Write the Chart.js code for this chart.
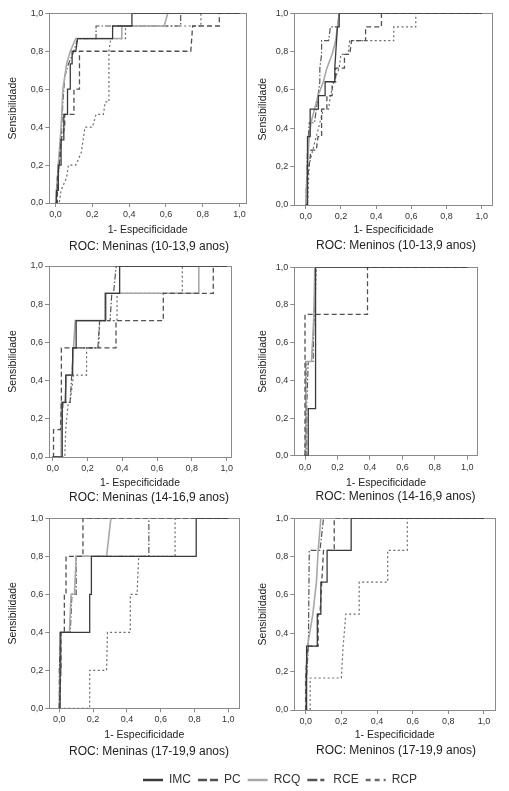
<!DOCTYPE html>
<html>
<head>
<meta charset="utf-8">
<script src="https://cdn.jsdelivr.net/npm/chart.js@4.4.1/dist/chart.umd.min.js"></script>
<style>
html, body { margin: 0; padding: 0; background: #fff; overflow: hidden; }
#wrap { position: relative; width: 509px; height: 791px; overflow: hidden; }
canvas { position: absolute; }
</style>
</head>
<body>
<div id="wrap"></div>
<script>
"use strict";

var seriesNames = ['IMC', 'PC', 'RCQ', 'RCE', 'RCP'];
var panelTitles = [
    'ROC: Meninas (10-13,9 anos)', 'ROC: Meninos (10-13,9 anos)',
    'ROC: Meninas (14-16,9 anos)', 'ROC: Meninos (14-16,9 anos)',
    'ROC: Meninas (17-19,9 anos)', 'ROC: Meninos (17-19,9 anos)'
];
var tickValues = [0, 0.2, 0.4, 0.6, 0.8, 1];
var tickLabels = ['0,0', '0,2', '0,4', '0,6', '0,8', '1,0'];
var xTitle = '1- Especificidade';
var yTitle = 'Sensibilidade';

// [1 - especificidade, sensibilidade]
// Meninas 10-13,9
var f10_imc = [[0,0],[0.005,0],[0.005,0.067],[0.015,0.067],[0.015,0.2],[0.03,0.2],[0.03,0.333],[0.045,0.333],[0.045,0.467],[0.065,0.467],[0.065,0.6],[0.08,0.6],[0.08,0.733],[0.09,0.733],[0.09,0.8],[0.11,0.8],[0.12,0.867],[0.31,0.867],[0.31,0.933],[0.415,0.933],[0.415,1],[1,1]];
var f10_pc = [[0,0],[0.01,0],[0.01,0.133],[0.02,0.2],[0.03,0.333],[0.05,0.4],[0.05,0.467],[0.1,0.467],[0.1,0.6],[0.13,0.6],[0.13,0.8],[0.735,0.8],[0.745,0.933],[0.89,0.933],[0.89,1],[1,1]];
var f10_rcq = [[0,0],[0.005,0.067],[0.01,0.133],[0.02,0.267],[0.03,0.4],[0.04,0.6],[0.06,0.733],[0.08,0.8],[0.11,0.867],[0.36,0.867],[0.36,0.933],[0.59,0.933],[0.61,1],[1,1]];
var f10_rce = [[0,0],[0.01,0.067],[0.02,0.2],[0.03,0.333],[0.04,0.533],[0.05,0.667],[0.07,0.733],[0.1,0.8],[0.12,0.867],[0.22,0.867],[0.22,0.933],[0.68,0.933],[0.68,1],[1,1]];
var f10_rcp = [[0,0],[0.02,0],[0.03,0.067],[0.06,0.133],[0.07,0.2],[0.11,0.2],[0.14,0.267],[0.15,0.333],[0.16,0.4],[0.2,0.4],[0.22,0.467],[0.26,0.467],[0.27,0.533],[0.29,0.533],[0.29,0.8],[0.3,0.867],[0.38,0.867],[0.38,0.933],[0.79,0.933],[0.79,1],[1,1]];

// Meninos 10-13,9
var m10_imc = [[0,0],[0.01,0],[0.01,0.357],[0.025,0.357],[0.025,0.5],[0.072,0.5],[0.072,0.571],[0.11,0.571],[0.11,0.643],[0.165,0.643],[0.165,0.714],[0.17,0.786],[0.18,0.929],[0.19,0.929],[0.19,1],[1,1]];
var m10_pc = [[0,0],[0.01,0],[0.01,0.143],[0.03,0.286],[0.06,0.286],[0.07,0.357],[0.09,0.357],[0.09,0.5],[0.12,0.5],[0.12,0.571],[0.15,0.571],[0.15,0.643],[0.17,0.643],[0.17,0.714],[0.22,0.714],[0.22,0.786],[0.25,0.786],[0.26,0.857],[0.34,0.857],[0.34,0.929],[0.43,0.929],[0.43,1],[1,1]];
var m10_rcq = [[0,0],[0.01,0.214],[0.02,0.357],[0.03,0.429],[0.05,0.5],[0.07,0.571],[0.1,0.643],[0.12,0.714],[0.15,0.786],[0.17,0.857],[0.18,0.929],[0.19,1],[1,1]];
var m10_rce = [[0,0],[0.005,0.143],[0.01,0.286],[0.02,0.429],[0.05,0.429],[0.06,0.5],[0.07,0.571],[0.08,0.643],[0.08,0.714],[0.09,0.786],[0.09,0.857],[0.13,0.857],[0.14,0.929],[0.18,0.929],[0.19,1],[1,1]];
var m10_rcp = [[0,0],[0.01,0],[0.02,0.214],[0.04,0.286],[0.06,0.357],[0.08,0.429],[0.1,0.5],[0.13,0.5],[0.14,0.571],[0.16,0.643],[0.19,0.714],[0.2,0.786],[0.24,0.786],[0.25,0.857],[0.5,0.857],[0.5,0.929],[0.625,0.929],[0.625,1],[1,1]];

// Meninas 14-16,9
var f14_imc = [[0,0],[0.055,0],[0.055,0.286],[0.075,0.286],[0.075,0.429],[0.115,0.429],[0.115,0.571],[0.135,0.571],[0.135,0.714],[0.305,0.714],[0.305,0.857],[0.385,0.857],[0.385,1],[1,1]];
var f14_pc = [[0,0],[0.005,0],[0.005,0.143],[0.045,0.143],[0.05,0.286],[0.05,0.571],[0.364,0.571],[0.364,0.714],[0.636,0.714],[0.636,0.857],[0.923,0.857],[0.923,1],[1,1]];
var f14_rcq = [[0,0],[0.05,0],[0.05,0.286],[0.07,0.286],[0.08,0.429],[0.11,0.429],[0.12,0.571],[0.13,0.714],[0.3,0.714],[0.3,0.857],[0.84,0.857],[0.84,1],[1,1]];
var f14_rce = [[0,0],[0.05,0],[0.05,0.143],[0.06,0.286],[0.1,0.286],[0.11,0.429],[0.12,0.571],[0.26,0.571],[0.27,0.714],[0.33,0.714],[0.34,0.857],[0.35,0.857],[0.365,1],[1,1]];
var f14_rcp = [[0,0],[0.07,0],[0.075,0.143],[0.09,0.286],[0.1,0.286],[0.12,0.429],[0.195,0.429],[0.195,0.571],[0.265,0.571],[0.27,0.714],[0.37,0.714],[0.37,0.857],[0.745,0.857],[0.745,1],[1,1]];

// Meninos 14-16,9
var m14_imc = [[0,0],[0.02,0],[0.02,0.25],[0.065,0.25],[0.065,1],[1,1]];
var m14_pc = [[0,0],[0,0.75],[0.385,0.75],[0.385,1],[1,1]];
var m14_rcq = [[0,0],[0.005,0],[0.005,0.5],[0.04,0.5],[0.055,0.75],[0.06,1],[1,1]];
var m14_rce = [[0,0],[0.01,0],[0.01,0.25],[0.02,0.5],[0.05,0.5],[0.055,0.75],[0.065,1],[1,1]];
var m14_rcp = [[0,0],[0.005,0.25],[0.01,0.5],[0.04,0.5],[0.06,0.75],[0.07,1],[1,1]];

// Meninas 17-19,9
var f17_imc = [[0,0],[0.005,0],[0.005,0.4],[0.18,0.4],[0.18,0.6],[0.19,0.6],[0.19,0.8],[0.81,0.8],[0.81,1],[1,1]];
var f17_pc = [[0,0],[0.01,0.2],[0.01,0.4],[0.03,0.4],[0.03,0.6],[0.04,0.6],[0.04,0.8],[0.14,0.8],[0.14,1],[1,1]];
var f17_rcq = [[0,0],[0.005,0.2],[0.01,0.4],[0.06,0.4],[0.07,0.6],[0.09,0.6],[0.1,0.8],[0.28,0.8],[0.305,1],[1,1]];
var f17_rce = [[0,0],[0,0.2],[0.01,0.4],[0.065,0.4],[0.075,0.6],[0.1,0.6],[0.1,0.8],[0.53,0.8],[0.53,1],[1,1]];
var f17_rcp = [[0,0],[0.18,0],[0.18,0.2],[0.28,0.2],[0.285,0.4],[0.42,0.4],[0.42,0.6],[0.46,0.6],[0.47,0.8],[0.685,0.8],[0.685,1],[1,1]];

// Meninos 17-19,9
var m17_imc = [[0,0],[0.005,0],[0.005,0.333],[0.065,0.333],[0.065,0.5],[0.085,0.5],[0.085,0.667],[0.12,0.667],[0.12,0.833],[0.255,0.833],[0.255,1],[1,1]];
var m17_pc = [[0,0],[0,0.167],[0.01,0.333],[0.07,0.333],[0.07,0.5],[0.08,0.5],[0.09,0.667],[0.1,0.833],[0.16,0.833],[0.16,1],[1,1]];
var m17_rcq = [[0,0],[0,0.167],[0.01,0.333],[0.04,0.5],[0.06,0.667],[0.07,0.833],[0.085,1],[1,1]];
var m17_rce = [[0,0],[0.005,0.167],[0.015,0.333],[0.02,0.833],[0.08,0.833],[0.1,1],[1,1]];
var m17_rcp = [[0,0],[0.025,0],[0.025,0.167],[0.2,0.167],[0.21,0.333],[0.225,0.5],[0.3,0.5],[0.3,0.667],[0.46,0.667],[0.46,0.833],[0.57,0.833],[0.57,1],[1,1]];

var panelData = [
    [f10_imc, f10_pc, f10_rcq, f10_rce, f10_rcp],
    [m10_imc, m10_pc, m10_rcq, m10_rce, m10_rcp],
    [f14_imc, f14_pc, f14_rcq, f14_rce, f14_rcp],
    [m14_imc, m14_pc, m14_rcq, m14_rce, m14_rcp],
    [f17_imc, f17_pc, f17_rcq, f17_rce, f17_rcp],
    [m17_imc, m17_pc, m17_rcq, m17_rce, m17_rcp]
];

// line styles per series
var lineColors = ['#3a3a3a', '#505050', '#a8a8a8', '#555555', '#6a6a6a'];
var lineWidths = [1.3, 1.3, 1.6, 1.2, 1.2];
var lineDashes = [[], [5, 3], [], [6, 2, 1.5, 2], [2, 2.5]];
var legendDashes = [[], [9, 3], [], [10, 3, 4, 3], [5, 4]];

// page layout of each panel: box = [left, right, top, bottom] of the plot frame
var panels = [
    { left: 0, top: 0, w: 298, box: [49.3, 246, 13.3, 203], xr: [-0.034, 1.035], titleY: 246.7, xTitleY: 230, yTitleX: 13.3 },
    { left: 255, top: 0, w: 282, box: [294.3, 492.7, 13.3, 205], xr: [-0.065, 1.062], titleY: 246, xTitleY: 230, yTitleX: 263.3 },
    { left: 0, top: 255, w: 298, box: [49, 231, 266, 457], xr: [-0.021, 1.025], titleY: 497.3, xTitleY: 483.3, yTitleX: 13.3 },
    { left: 255, top: 255, w: 281, box: [294.3, 477.7, 267.3, 455.7], xr: [-0.066, 1.064], titleY: 496.7, xTitleY: 483.3, yTitleX: 263.3 },
    { left: 0, top: 505, w: 298, box: [49.3, 239.3, 518.3, 708.3], xr: [-0.059, 1.065], titleY: 751.7, xTitleY: 735, yTitleX: 13.3 },
    { left: 255, top: 505, w: 282, box: [294.3, 495, 518.3, 710], xr: [-0.064, 1.062], titleY: 751, xTitleY: 735, yTitleX: 263.3 }
];

Chart.defaults.font.family = "'Liberation Sans', Arial, sans-serif";
Chart.defaults.color = '#333';

var wrap = document.getElementById('wrap');
var frameColor = '#8a8a8a';
var canvasH = 255;

function addCanvas(left, top, w, h) {
    var c = document.createElement('canvas');
    c.width = w;
    c.height = h;
    c.style.left = left + 'px';
    c.style.top = top + 'px';
    c.style.width = w + 'px';
    c.style.height = h + 'px';
    wrap.appendChild(c);
    return c;
}

function tickOpts() {
    return {
        autoSkip: false,
        maxRotation: 0,
        padding: 2,
        color: '#333',
        font: { size: 9 },
        callback: function (v, k) { return tickLabels[k]; }
    };
}

function setTicks(scale) {
    scale.ticks = tickValues.map(function (v) { return { value: v }; });
}

panels.forEach(function (p, i) {
    var c = addCanvas(p.left, p.top, p.w, canvasH);
    var titleH = 12 * 1.2;
    var axisLH = 10.5 * 1.2;
    var xAxisH = p.titleY - titleH / 2 - p.box[3];
    var bottomPad = p.top + canvasH - p.box[3] - xAxisH - titleH;
    var xTitlePad = Math.max(0, p.titleY - titleH / 2 - axisLH / 2 - p.xTitleY);
    var yTitlePad = p.yTitleX - p.left - axisLH / 2;

    new Chart(c.getContext('2d'), {
        type: 'line',
        data: {
            datasets: seriesNames.map(function (name, k) {
                return {
                    label: name,
                    data: panelData[i][k].map(function (pt) { return { x: pt[0], y: pt[1] }; }),
                    xAxisID: 'x',
                    yAxisID: 'y',
                    borderColor: lineColors[k],
                    borderWidth: lineWidths[k],
                    borderDash: lineDashes[k],
                    pointRadius: 0,
                    tension: 0,
                    fill: false
                };
            })
        },
        options: {
            responsive: false,
            animation: false,
            layout: { padding: { left: 0, right: 0, top: 0, bottom: bottomPad } },
            plugins: {
                legend: { display: false },
                tooltip: { enabled: false },
                title: {
                    display: true,
                    text: panelTitles[i],
                    position: 'bottom',
                    padding: 0,
                    color: '#222',
                    font: { size: 12, weight: 'normal', lineHeight: 1.2 }
                }
            },
            scales: {
                x: {
                    type: 'linear',
                    position: 'bottom',
                    min: p.xr[0],
                    max: p.xr[1],
                    afterBuildTicks: setTicks,
                    afterFit: function (s) { s.height = xAxisH; },
                    ticks: tickOpts(),
                    grid: { drawOnChartArea: false, drawTicks: true, tickLength: 4, color: frameColor },
                    border: { display: true, color: frameColor },
                    title: {
                        display: true, text: xTitle, color: '#222',
                        font: { size: 10.5, lineHeight: 1.2 },
                        padding: { top: 0, bottom: xTitlePad }
                    }
                },
                y: {
                    type: 'linear',
                    position: 'left',
                    min: 0,
                    max: 1,
                    afterBuildTicks: setTicks,
                    afterFit: function (s) { s.width = p.box[0] - p.left; },
                    ticks: tickOpts(),
                    grid: { drawOnChartArea: false, drawTicks: true, tickLength: 4, color: frameColor },
                    border: { display: true, color: frameColor },
                    title: {
                        display: true, text: yTitle, color: '#222',
                        font: { size: 10.5, lineHeight: 1.2 },
                        padding: { top: yTitlePad, bottom: 0 }
                    }
                },
                x2: {
                    type: 'linear',
                    position: 'top',
                    ticks: { display: false },
                    grid: { display: false },
                    border: { display: true, color: frameColor },
                    afterFit: function (s) { s.height = p.box[2] - p.top; }
                },
                y2: {
                    type: 'linear',
                    position: 'right',
                    ticks: { display: false },
                    grid: { display: false },
                    border: { display: true, color: frameColor },
                    afterFit: function (s) { s.width = p.left + p.w - p.box[1]; }
                }
            }
        }
    });
});

// shared legend below the panels
var lc = addCanvas(51, 760, 458, 80);
new Chart(lc.getContext('2d'), {
    type: 'line',
    data: {
        datasets: seriesNames.map(function (name, k) {
            return {
                label: name,
                data: [],
                borderColor: lineColors[k],
                backgroundColor: lineColors[k],
                borderWidth: 2.5,
                borderDash: legendDashes[k]
            };
        })
    },
    options: {
        responsive: false,
        animation: false,
        layout: { padding: { top: 7 } },
        scales: { x: { display: false }, y: { display: false } },
        plugins: {
            tooltip: { enabled: false },
            legend: {
                display: true,
                position: 'top',
                labels: {
                    usePointStyle: true,
                    pointStyle: 'line',
                    pointStyleWidth: 20,
                    padding: 7,
                    color: '#333',
                    font: { size: 12 },
                    generateLabels: function (chart) {
                        var items = Chart.defaults.plugins.legend.labels.generateLabels(chart);
                        items.forEach(function (it) {
                            it.lineDash = legendDashes[it.datasetIndex];
                            it.lineWidth = 2.5;
                            it.strokeStyle = lineColors[it.datasetIndex];
                        });
                        return items;
                    }
                }
            }
        }
    }
});
</script>
</body>
</html>
